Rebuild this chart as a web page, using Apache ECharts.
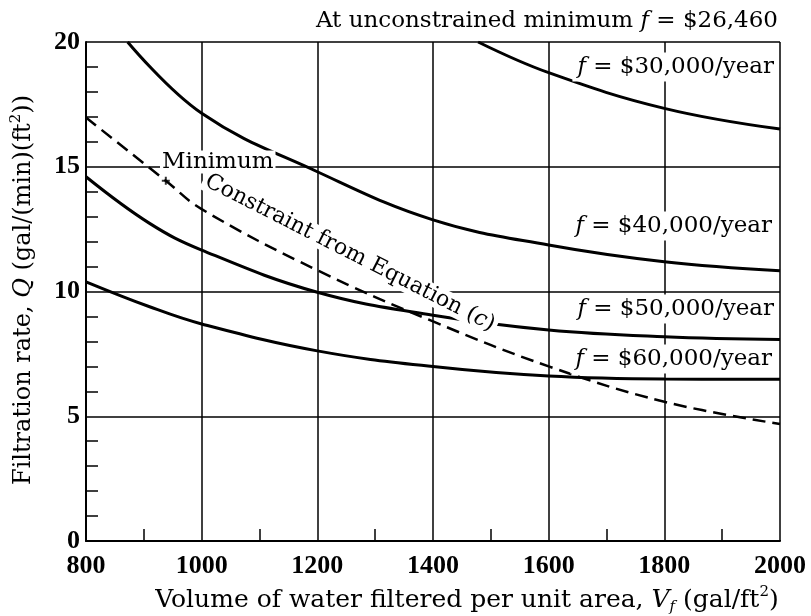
<!DOCTYPE html>
<html><head><meta charset="utf-8">
<script src="https://cdn.jsdelivr.net/npm/echarts@6/dist/echarts.min.js"></script>
<style>html,body{margin:0;padding:0;background:#fff}#c{width:811px;height:616px}</style>
</head><body><div id="c"></div>
<script>
// ---- data ----
const xRange = [800, 2000];
const yRange = [0, 20];
const xStep = 200;
const yStep = 5;

const vf30 = [1478, 1600, 1800, 2000];
const q30  = [20, 18.77, 17.34, 16.51];

const vf40 = [872, 1000, 1200, 1400, 1600, 1800, 2000];
const q40  = [20, 17.14, 14.8, 12.87, 11.86, 11.19, 10.83];

const vf50 = [800, 910, 1000, 1200, 1400, 1600, 1800, 2000];
const q50  = [14.6, 12.73, 11.66, 9.97, 9.05, 8.46, 8.19, 8.08];

const vf60 = [800, 910, 1000, 1200, 1400, 1600, 1800, 2000];
const q60  = [10.39, 9.39, 8.70, 7.62, 6.99, 6.61, 6.49, 6.48];

const vfCon = [800, 938, 1000, 1200, 1400, 1600, 1800, 2000];
const qCon  = [16.97, 14.44, 13.3, 10.85, 8.8, 7.0, 5.58, 4.69];

const minPoint = [938, 14.44];

const pair = (xs, ys) => xs.map((x, i) => [x, ys[i]]);

const serif = '"Liberation Serif", "Times New Roman", serif';
const wide = '"DejaVu Serif", serif';

const solid = (name, xs, ys) => ({
  name, type: 'line', data: pair(xs, ys), smooth: 0.4,
  showSymbol: false, symbol: 'none', clip: true,
  lineStyle: {color: '#000', width: 3}, z: 3, silent: true
});

const chart = echarts.init(document.getElementById('c'), null, {renderer: 'canvas'});

const richBase = {
  i: {fontStyle: 'italic', fontFamily: wide, fontSize: 23, fill: '#000'}
};

function label(text, x, y, align, extra) {
  return Object.assign({
    type: 'text', x, y, z: 100, silent: true,
    style: {
      text, fontFamily: wide, fontSize: 23, fill: '#000',
      textAlign: align, textVerticalAlign: 'middle',
      backgroundColor: '#fff', padding: [3, 3, 3, 5],
      rich: richBase
    }
  }, extra || {});
}

chart.setOption({
  animation: false,
  backgroundColor: '#fff',
  grid: {left: 86, right: 31, top: 42, bottom: 75, containLabel: false},
  xAxis: {
    type: 'value', min: xRange[0], max: xRange[1], interval: xStep,
    axisLine: {show: true, onZero: false, lineStyle: {color: '#000', width: 2}},
    axisTick: {show: true, inside: true, length: 1, lineStyle: {color: '#000'}},
    minorTick: {show: true, splitNumber: 2, length: 12, lineStyle: {color: '#000', width: 1.5}},
    splitLine: {show: true, lineStyle: {color: '#000', width: 1.5}},
    axisLabel: {fontFamily: serif, fontSize: 26, fontWeight: 'bold', color: '#000', margin: 12,
      formatter: v => String(v)}
  },
  yAxis: {
    type: 'value', min: yRange[0], max: yRange[1], interval: yStep,
    axisLine: {show: true, onZero: false, lineStyle: {color: '#000', width: 2}},
    axisTick: {show: true, inside: true, length: 1, lineStyle: {color: '#000'}},
    minorTick: {show: true, splitNumber: 5, length: 12, lineStyle: {color: '#000', width: 1.5}},
    splitLine: {show: true, lineStyle: {color: '#000', width: 1.5}},
    axisLabel: {fontFamily: serif, fontSize: 26, fontWeight: 'bold', color: '#000', margin: 6,
      formatter: v => String(v)}
  },
  series: [
    solid('$30,000', vf30, q30),
    solid('$40,000', vf40, q40),
    solid('$50,000', vf50, q50),
    solid('$60,000', vf60, q60),
    {
      name: 'Constraint', type: 'line', data: pair(vfCon, qCon), smooth: 0.4,
      showSymbol: false, symbol: 'none', silent: true, z: 3,
      lineStyle: {color: '#000', width: 2.5, type: [13, 7]}
    },
    {
      name: 'Minimum', type: 'scatter', data: [minPoint], silent: true, z: 120,
      symbol: 'path://M3,0H5V3H8V5H5V8H3V5H0V3H3Z', symbolSize: 8,
      itemStyle: {color: '#000'}
    }
  ],
  graphic: [
    label('At unconstrained minimum {i|f} = $26,460', 778, 21, 'right', {style: {
      text: 'At unconstrained minimum {i|f} = $26,460', fontFamily: wide, fontSize: 23, fill: '#000',
      textAlign: 'right', textVerticalAlign: 'middle', rich: richBase}}),
    label('{i|f} = $30,000/year', 777, 67, 'right'),
    label('{i|f} = $40,000/year', 775, 226, 'right'),
    label('{i|f} = $50,000/year', 777, 309, 'right'),
    label('{i|f} = $60,000/year', 775, 359, 'right'),
    label('Minimum', 160, 162, 'left', {style: {
      text: 'Minimum', fontFamily: wide, fontSize: 23, fill: '#000',
      textAlign: 'left', textVerticalAlign: 'middle', backgroundColor: '#fff', padding: [0, 2, 0, 2]}}),
    {
      type: 'text', x: 350, y: 253, rotation: -0.47, z: 100, silent: true,
      style: {
        text: 'Constraint from Equation ({i|c})', fontFamily: wide, fontSize: 22, fill: '#000',
        textAlign: 'center', textVerticalAlign: 'middle', backgroundColor: '#fff', padding: [0, 3, 0, 3],
        rich: {i: {fontStyle: 'italic', fontFamily: wide, fontSize: 22, fill: '#000'}}
      }
    },
    {
      type: 'text', x: 467, y: 600, z: 100, silent: true,
      style: {
        text: 'Volume of water filtered per unit area, {i|V}{sub|f} (gal/ft{sup|2})',
        fontFamily: wide, fontSize: 25, fill: '#000', textAlign: 'center', textVerticalAlign: 'middle',
        rich: {
          i: {fontStyle: 'italic', fontFamily: wide, fontSize: 25, fill: '#000', lineHeight: 30},
          sub: {fontStyle: 'italic', fontFamily: wide, fontSize: 15, fill: '#000', verticalAlign: 'bottom', lineHeight: 30},
          sup: {fontFamily: wide, fontSize: 15, fill: '#000', verticalAlign: 'top', lineHeight: 30}
        }
      }
    },
    {
      type: 'text', x: 24, y: 290, rotation: Math.PI / 2, z: 100, silent: true,
      style: {
        text: 'Filtration rate, {i|Q} (gal/(min)(ft{sup|2}))',
        fontFamily: wide, fontSize: 24, fill: '#000', textAlign: 'center', textVerticalAlign: 'middle',
        rich: {
          i: {fontStyle: 'italic', fontFamily: wide, fontSize: 24, fill: '#000', lineHeight: 30},
          sup: {fontFamily: wide, fontSize: 15, fill: '#000', verticalAlign: 'top', lineHeight: 30}
        }
      }
    }
  ]
});
</script>
</body></html>
